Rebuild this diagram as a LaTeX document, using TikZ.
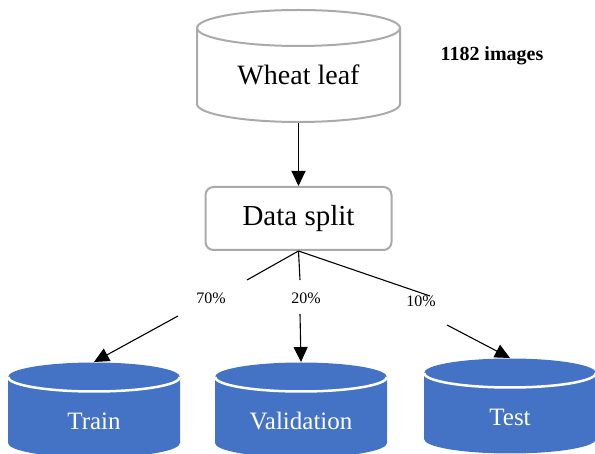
\documentclass[tikz,border=0pt]{standalone}
\usepackage{fontspec}
\setmainfont{Liberation Serif}
\usetikzlibrary{positioning}
\usetikzlibrary{arrows.meta}
\definecolor{dsblue}{RGB}{68,114,196}
\definecolor{dsgray}{RGB}{170,170,170}
\tikzset{x=1pt, y=1pt, % one unit is one pixel of the layout
storeline/.style={ % Outline of the source store
draw=dsgray,
line width=2pt},
storetext/.style={font=\fontsize{28}{30}\selectfont},
bluetext/.style={ % Labels of the three parts
text=white,
font=\fontsize{25}{27}\selectfont},
splitbox/.style={ % The split step
draw=dsgray,
line width=2pt,
rounded corners=8pt,
minimum width=186pt,
minimum height=63pt,
font=\fontsize{29}{31}\selectfont},
share/.style={font=\fontsize{16}{18}\selectfont},
link/.style={line width=1.1pt},
arr/.style={link, -{Triangle[width=14pt,length=15pt]}}}

\begin{document}
\begin{tikzpicture}
    \useasboundingbox (0,0) rectangle (595,-454);
    % source store
    \draw[storeline, fill=white] (197,-28) -- (197,-104)
        arc[start angle=180, end angle=360, x radius=101.5, y radius=18] -- (400,-28)
        arc[start angle=0, end angle=180, x radius=101.5, y radius=18] -- cycle;
    \draw[storeline] (197,-28) arc[start angle=180, end angle=360, x radius=101.5, y radius=18];
    \node[storetext] (wheat) at (298.5,-75) {Wheat leaf};
    \coordinate (wheat-bottom) at (298.5,-123);
    \node[font=\bfseries\fontsize{20}{22}\selectfont] (count) at (492,-56) {1182 images};
    \node[splitbox, below=63pt of wheat-bottom] (split) {Data split};
    % the three parts
    \foreach \nm/\cx/\cy/\lbl in {train/94/377/Train, valid/301/377/Validation, test/510/373/Test}{
      \fill[dsblue] (\cx-86,-\cy) -- (\cx-86,-\cy-66)
          arc[start angle=180, end angle=360, x radius=86, y radius=14.5] -- (\cx+86,-\cy)
          arc[start angle=0, end angle=180, x radius=86, y radius=14.5] -- cycle;
      \draw[white, line width=2.5pt] (\cx-86,-\cy)
          arc[start angle=180, end angle=360, x radius=86, y radius=14.5];
      \node[bluetext] (\nm) at (\cx,-\cy-44) {\lbl};
      \coordinate (\nm-top) at (\cx,-\cy+15);
    }
    % the three shares
    \node[share] (p70) at (211,-298) {70\%};
    \node[share] (p20) at (306,-298) {20\%};
    \node[share] (p10) at (421,-301) {10\%};
    \coordinate (a70) at (247,-280);
    \coordinate (b70) at (178,-316);
    \coordinate (a20) at (300,-280);
    \coordinate (b20) at (300,-314);
    \coordinate (a10) at (430,-296);
    \coordinate (b10) at (447,-325);
    \draw[arr] (wheat-bottom) -- (split.north);
    \draw[link] (split.south) -- (a70);
    \draw[link] (split.south) -- (a20);
    \draw[link] (split.south) -- (a10);
    \draw[arr] (b70) -- (train-top);
    \draw[arr] (b20) -- (valid-top);
    \draw[arr] (b10) -- (test-top);
\end{tikzpicture}
\end{document}
